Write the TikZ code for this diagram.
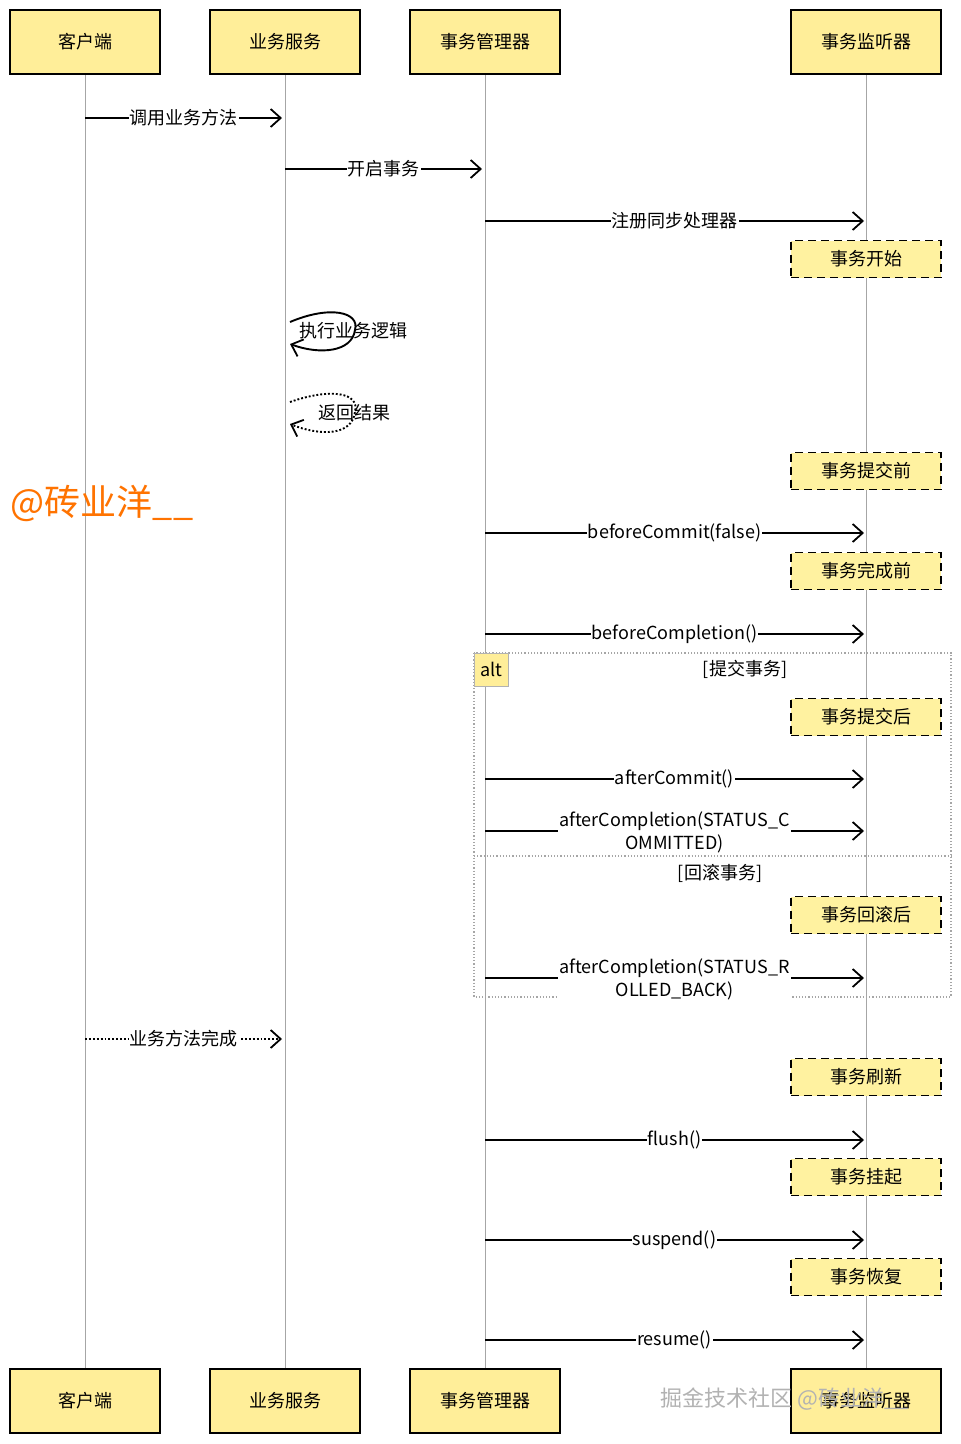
\documentclass[tikz,border=0pt]{standalone}
\usepackage{fontspec}
\setmainfont{Noto Sans CJK SC}
\usetikzlibrary{arrows.meta}
\definecolor{boxy}{HTML}{FFEE99}
\definecolor{notey}{HTML}{FFF2A0}
\begin{document}
\begin{tikzpicture}[x=1pt,y=-1pt,font=\fontsize{18}{21}\selectfont,
  actor/.style={draw=black,line width=1.8pt,fill=boxy,minimum width=150pt,minimum height=64pt,inner sep=0},
  note/.style={draw=black,dash pattern=on 8pt off 5pt,line width=1.8pt,fill=notey,minimum width=150pt,minimum height=37pt,inner sep=0},
  msg/.style={line width=1.9pt,-{Straight Barb[length=10pt,width=18pt,line width=1.8pt]}},
  rmsg/.style={msg,dotted},
  lbl/.style={fill=white,inner sep=1pt},
  life/.style={draw=gray!70,line width=0.7pt}]
\useasboundingbox (0,0) rectangle (961,1444);
\fill[white] (0,0) rectangle (961,1444);
% lifelines
\foreach \x/\n in {85/a,285/b,485/c,866/d}{
  \coordinate (\n t) at (\x,74); \coordinate (\n b) at (\x,1369);
  \draw[life] (\n t) -- (\n b);}
\foreach \x/\n/\t in {85/a/客户端,285/b/业务服务,485/c/事务管理器,866/d/事务监听器}{
  \node[actor] (\n1) at (\x,42) {\t};
  \node[actor] (\n2) at (\x,1401) {\t};}
% alt frame
\draw[gray!70,dotted,line width=1.2pt] (474,653) rectangle (951,997);
\draw[gray!70,dotted,line width=1.2pt] (474,856) -- (951,856);
\node[draw=gray!60,fill=boxy,minimum width=34pt,minimum height=33pt,inner sep=0,anchor=north west] (alt) at (474,653) {alt};
\node (g1) at (745,669) {[提交事务]};
\node (g2) at (720,873) {[回滚事务]};
% notes
\foreach \y/\t in {259/事务开始,471/事务提交前,571/事务完成前,717/事务提交后,915/事务回滚后,1077/事务刷新,1177/事务挂起,1277/事务恢复}
  \node[note] at (866,\y) {\t};
% messages
\foreach \y/\n in {118/m1,169/m2,221/m3,533/m4,634/m5,779/m6,831/m7,978/m8,1039/m9,1140/m10,1240/m11,1340/m12}{
  \coordinate (\n a) at (85,\y); \coordinate (\n b) at (285,\y);
  \coordinate (\n c) at (485,\y); \coordinate (\n d) at (864,\y);
  \coordinate (\n e) at (282,\y); \coordinate (\n f) at (482,\y);}
\draw[msg] (m1a) -- node[lbl] {调用业务方法} (m1e);
\draw[msg] (m2b) -- node[lbl] {开启事务} (m2f);
\draw[msg] (m3c) -- node[lbl] {注册同步处理器} (m3d);
\draw[msg] (m4c) -- node[lbl] {beforeCommit(false)} (m4d);
\draw[msg] (m5c) -- node[lbl] {beforeCompletion()} (m5d);
\draw[msg] (m6c) -- node[lbl] {afterCommit()} (m6d);
\draw[msg] (m7c) -- node[lbl,align=center,font=\fontsize{18}{23}\selectfont,yshift=-1pt] {afterCompletion(STATUS\_C\\OMMITTED)} (m7d);
\draw[msg] (m8c) -- node[lbl,align=center,font=\fontsize{18}{23}\selectfont,yshift=-1pt] {afterCompletion(STATUS\_R\\OLLED\_BACK)} (m8d);
\draw[rmsg] (m9a) -- node[lbl] {业务方法完成} (m9e);
\draw[msg] (m10c) -- node[lbl] {flush()} (m10d);
\draw[msg] (m11c) -- node[lbl] {suspend()} (m11d);
\draw[msg] (m12c) -- node[lbl] {resume()} (m12d);
% self calls
\coordinate (s1a) at (290,322); \coordinate (s1b) at (290,344);
\draw[msg] (s1a) .. controls (330,305) and (360,312) .. (355,330) .. controls (352,352) and (320,355) .. (s1b);
\node[lbl,fill=none] at (353,331) {执行业务逻辑};
\coordinate (s2a) at (290,402); \coordinate (s2b) at (290,424);
\draw[rmsg] (s2a) .. controls (330,388) and (360,392) .. (355,412) .. controls (352,436) and (320,436) .. (s2b);
\node[lbl,fill=none] at (354,413) {返回结果};
% watermarks
\node[text=orange!90!red,font=\fontsize{36}{40}\selectfont] at (102,503) {@砖业洋\_\_};
\node[text=gray!60,font=\fontsize{22}{24}\selectfont] at (785,1399) {掘金技术社区 @砖业洋\_\_};
\end{tikzpicture}
\end{document}
